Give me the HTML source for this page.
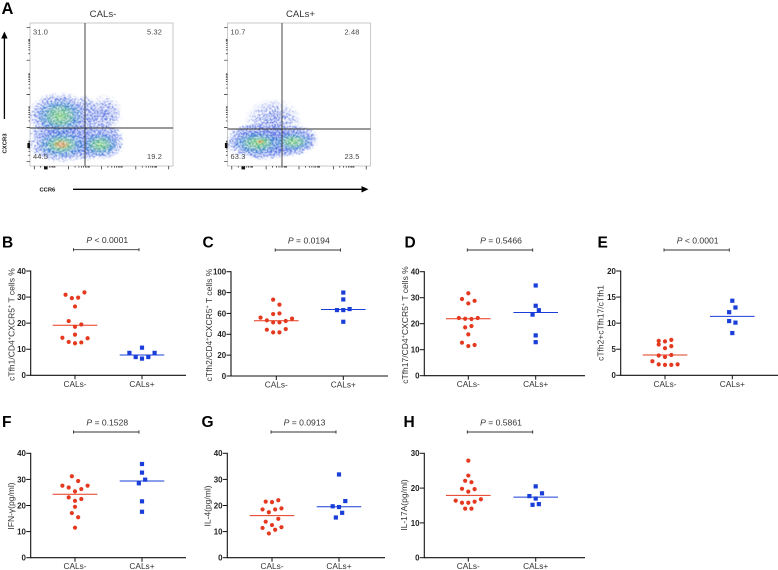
<!DOCTYPE html>
<html lang="en">
<head>
<meta charset="utf-8">
<title>cTfh subsets in CALs- and CALs+ patients</title>
<style>
html,body{margin:0;padding:0;background:#fff;}
#figure{display:block;width:778px;height:570px;font-family:"Liberation Sans",Arial,sans-serif;}
</style>
</head>
<body>
<svg id="figure" xmlns="http://www.w3.org/2000/svg" width="778" height="570" viewBox="0 0 778 570">
  <defs>
    <filter id="speckle" x="-10%" y="-10%" width="120%" height="120%" color-interpolation-filters="sRGB">
      <feTurbulence type="fractalNoise" baseFrequency="0.8" numOctaves="2" seed="7" result="noise"/>
      <feColorMatrix in="noise" type="matrix" values="0 0 0 0 0  0 0 0 0 0  0 0 0 0 0  3.5 0 0 0 -1.25" result="mask"/>
      <feComposite in="SourceGraphic" in2="mask" operator="in" result="masked"/>
      <feComponentTransfer in="masked" result="dots"><feFuncA type="linear" slope="8" intercept="-2.6"/></feComponentTransfer>
      <feGaussianBlur in="dots" stdDeviation="0.4"/>
    </filter>
    <radialGradient id="fade-blue"><stop offset="0" stop-color="#2343d6" stop-opacity="1"/><stop offset="0.6" stop-color="#2a4ddc" stop-opacity="0.55"/><stop offset="1" stop-color="#4a6ae6" stop-opacity="0.2"/></radialGradient>
    <radialGradient id="fade-teal"><stop offset="0" stop-color="#2fa4b4" stop-opacity="0.95"/><stop offset="1" stop-color="#2f94c4" stop-opacity="0.3"/></radialGradient>
    <radialGradient id="fade-green"><stop offset="0" stop-color="#6cc45c" stop-opacity="0.95"/><stop offset="1" stop-color="#5cc070" stop-opacity="0.3"/></radialGradient>
    <radialGradient id="fade-red"><stop offset="0" stop-color="#e2552c" stop-opacity="0.95"/><stop offset="1" stop-color="#e0a030" stop-opacity="0.3"/></radialGradient>
    <clipPath id="clip-neg"><rect x="30" y="23" width="143" height="143"/></clipPath>
    <clipPath id="clip-pos"><rect x="227.5" y="23" width="143" height="143"/></clipPath>
  </defs>

  <rect x="0" y="0" width="778" height="570" fill="#fff"/>

  <g id="panel-a"></g>

  <path d="M4.4 119V36" stroke="#000" stroke-width="1.3" fill="none"/>
  <path d="M4.4 31.5L1.2 38.5H7.6Z" fill="#000"/>
  <text transform="translate(6.5,143.5) rotate(-90)" text-anchor="middle" font-size="5.9" font-weight="bold" fill="#111">CXCR3</text>
  <text x="39.5" y="191.5" font-size="5.8" font-weight="bold" fill="#111">CCR6</text>
  <path d="M73 189.3H363" stroke="#000" stroke-width="1.3" fill="none"/>
  <path d="M368.5 189.3L361.5 186.1V192.5Z" fill="#000"/>

  <g id="panels"></g>
</svg>

<script>
/* ---------- Panel A: flow plots ---------- */
const flowPctNeg = ["31.0", "5.32", "44.5", "19.2"];
const flowPctPos = ["10.7", "2.48", "63.3", "23.5"];
/* populations, in channel units (0-100) */
const flowNegX = [22, 21, 49, 52];
const flowNegY = [15, 35, 15, 36];
const flowNegSpreadX = [28, 27, 21, 20];
const flowNegSpreadY = [15, 20, 13, 22];
const flowNegDensity = [1, 0.8, 0.72, 0.28];
const flowPosX = [21, 23, 46, 32];
const flowPosY = [16, 17, 17, 30];
const flowPosSpreadX = [28, 15, 22, 32];
const flowPosSpreadY = [13, 6, 11, 27];
const flowPosDensity = [0.8, 1, 0.7, 0.28];
const flowDecades = [3, 27, 50, 74, 97];

/* ---------- Panel B ---------- */
const bTicks = [0, 10, 20, 30, 40];
const bNegValues = [12.3, 12.6, 12.8, 14.2, 14.4, 15.6, 18.6, 19.5, 20.8, 26.4, 29.6, 29.8, 30.9, 31.8];
const bNegRowSizes = [5, 1, 3, 1, 4];
const bNegMedian = 19.2;
const bPosValues = [6.4, 7.0, 7.0, 8.6, 8.6, 10.6];
const bPosRowSizes = [5, 1];
const bPosMedian = 7.8;

/* ---------- Panel C ---------- */
const cTicks = [0, 20, 40, 60, 80, 100];
const cNegValues = [41.8, 41.8, 44.4, 45, 51.4, 51.4, 53.4, 52.7, 56, 55, 59.4, 60, 73.2, 68.4];
const cNegRowSizes = [4, 6, 2, 2];
const cNegMedian = 53;
const cPosValues = [52, 63.2, 64.2, 63.2, 73.4, 80];
const cPosRowSizes = [1, 3, 1, 1];
const cPosMedian = 63.7;

/* ---------- Panel D ---------- */
const dTicks = [0, 10, 20, 30, 40];
const dNegValues = [11.4, 11.8, 12.7, 15.9, 18.6, 19.1, 21.9, 21.8, 22.2, 22.2, 27.8, 28.8, 29.5, 31.7];
const dNegRowSizes = [3, 1, 2, 4, 3, 1];
const dNegMedian = 21.9;
const dPosValues = [12.9, 15.5, 23.5, 25.2, 26.9, 34.7];
const dPosRowSizes = [1, 1, 2, 1, 1];
const dPosMedian = 24.3;

/* ---------- Panel E ---------- */
const eTicks = [0, 5, 10, 15, 20];
const eNegValues = [2.0, 2.0, 2.1, 2.1, 2.7, 3.5, 3.9, 3.8, 5.2, 5.6, 5.9, 6.5, 6.8, 6.6];
const eNegRowSizes = [5, 3, 3, 3];
const eNegMedian = 3.9;
const ePosValues = [8.1, 10.4, 10.1, 12.1, 13.0, 14.3];
const ePosRowSizes = [1, 2, 2, 1];
const ePosMedian = 11.3;

/* ---------- Panel F ---------- */
const fTicks = [0, 10, 20, 30, 40];
const fNegValues = [11.5, 17.1, 15.5, 19.5, 21.8, 22.5, 23.1, 25.4, 26.3, 26.9, 27.6, 27.6, 31.2, 29.4];
const fNegRowSizes = [1, 2, 1, 3, 5, 2];
const fNegMedian = 24.3;
const fPosValues = [17.6, 21.6, 28.5, 29.9, 32.6, 35.9];
const fPosRowSizes = [1, 1, 2, 1, 1];
const fPosMedian = 29.4;

/* ---------- Panel G ---------- */
const gTicks = [0, 10, 20, 30, 40];
const gNegValues = [9.3, 10.7, 11.4, 11.7, 12.5, 14.9, 13.8, 17.4, 18.5, 18.5, 18.9, 21.3, 22, 21.5];
const gNegRowSizes = [4, 3, 4, 3];
const gNegMedian = 16.1;
const gPosValues = [15.4, 17.2, 19.4, 21.7, 19.7, 31.9];
const gPosRowSizes = [2, 3, 1];
const gPosMedian = 19.5;

/* ---------- Panel H ---------- */
const hTicks = [0, 10, 20, 30];
const hNegValues = [14.1, 14.1, 15.8, 16.1, 15.8, 16.8, 16.4, 19, 19.7, 19.8, 22.1, 21.7, 23.6, 27.9];
const hNegRowSizes = [2, 5, 3, 2, 1, 1];
const hNegMedian = 17.9;
const hPosValues = [15.2, 15.4, 17, 18.5, 17.7, 20.5];
const hPosRowSizes = [2, 3, 1];
const hPosMedian = 17.4;

const categories = ["CALs-", "CALs+"];

const NS = "http://www.w3.org/2000/svg";
const RED = "#e5391f";
const BLUE = "#1a3fd8";

function make(parent, tag, attrs, text) {
  const el = document.createElementNS(NS, tag);
  for (const k in attrs) el.setAttribute(k, attrs[k]);
  if (text !== undefined) el.textContent = text;
  parent.appendChild(el);
  return el;
}

/* dots in a swarm row fan out from the centre: odd rows 0,+1,-1,+2…; even rows -.5,+.5,-1.5,+1.5… */
function swarmSlot(indexInRow, rowSize) {
  const step = Math.floor(indexInRow / 2);
  if (rowSize % 2 === 1) {
    if (indexInRow === 0) return 0;
    return indexInRow % 2 === 1 ? step + 1 : -step;
  }
  return indexInRow % 2 === 0 ? -(step + 0.5) : step + 0.5;
}

function drawSeries(group, values, rowSizes, median, cx, yScale, color, shape, name) {
  const slotWidth = 6.3;
  let cursor = 0;
  rowSizes.forEach(function (rowSize) {
    for (let i = 0; i < rowSize; i++) {
      const x = cx + swarmSlot(i, rowSize) * slotWidth;
      const y = yScale(values[cursor + i]);
      let mark;
      if (shape === "circle") {
        mark = make(group, "circle", { cx: x, cy: y, r: 2.1, fill: color });
      } else {
        mark = make(group, "rect", { x: x - 2.1, y: y - 2.1, width: 4.2, height: 4.2, fill: color });
      }
      
      
    }
    cursor += rowSize;
  });
  const line = make(group, "line", { x1: cx - 22.3, x2: cx + 22.3, y1: yScale(median), y2: yScale(median), stroke: color, "stroke-width": 1 });
  
  
}

function drawTitle(group, cfg) {
  const t = make(group, "text", {
    transform: "translate(" + cfg.titleX + "," + cfg.titleY + ") rotate(-90)",
    "text-anchor": "middle", "font-size": 8.5, fill: "#333"
  });
  
  
  let afterSup = false;
  cfg.title.split(/(\^)/).forEach(function (part) {
    if (part === "^") {
      const sup = make(t, "tspan", { "font-size": 5.8, dy: -2.8 }, "+");
      
      
      afterSup = true;
    } else if (part) {
      const attrs = afterSup ? { dy: 2.8 } : {};
      afterSup = false;
      const run = make(t, "tspan", attrs, part);
      
      
    }
  });
}

function drawPanel(cfg) {
  const g = make(document.getElementById("panels"), "g", {});
  
  

  const yMax = cfg.ticks[cfg.ticks.length - 1];
  const yScale = function (v) { return cfg.y0 - (v / yMax) * (cfg.y0 - cfg.yTop); };

  const letter = make(g, "text", { x: cfg.letterX, y: cfg.letterY, "font-size": 15.5, "font-weight": "bold", fill: "#000" }, cfg.letter);
  
  

  /* significance bracket */
  const by = cfg.bracketY;
  const bracket = make(g, "path", {
    d: "M" + cfg.bx1 + " " + (by - 1.6) + "V" + (by + 1.6) + "M" + cfg.bx1 + " " + by + "H" + cfg.bx2 + "M" + cfg.bx2 + " " + (by - 1.6) + "V" + (by + 1.6),
    stroke: "#333", "stroke-width": 0.9, fill: "none"
  });
  
  
  const pText = make(g, "text", { x: (cfg.bx1 + cfg.bx2) / 2 + 1, y: by - 6.5, "text-anchor": "middle", "font-size": 8.6, fill: "#333" });
  
  
  const pItalic = make(pText, "tspan", { "font-style": "italic" }, "P");
  
  
  const pRest = make(pText, "tspan", {}, " " + cfg.p);
  
  

  drawTitle(g, cfg);

  /* axes */
  const yAxis = make(g, "line", { x1: cfg.x0, x2: cfg.x0, y1: cfg.yTop - 0.5, y2: cfg.y0 + 0.5, stroke: "#111", "stroke-width": 1.1 });
  
  
  const xAxis = make(g, "line", { x1: cfg.x0, x2: cfg.xEnd, y1: cfg.y0, y2: cfg.y0, stroke: "#111", "stroke-width": 1.1 });
  
  

  cfg.ticks.forEach(function (v) {
    const y = yScale(v);
    const tick = make(g, "line", { x1: cfg.x0 - 4.5, x2: cfg.x0, y1: y, y2: y, stroke: "#111", "stroke-width": 1 });
    
    
    const label = make(g, "text", { x: cfg.x0 - 4.8, y: y + 2.9, "text-anchor": "end", "font-size": 7.9, "font-weight": "bold", fill: "#222" }, String(v));
    
    
  });

  categories.forEach(function (c, i) {
    const x = cfg.cats[i];
    const tick = make(g, "line", { x1: x, x2: x, y1: cfg.y0, y2: cfg.y0 + 4, stroke: "#111", "stroke-width": 1 });
    
    
    const label = make(g, "text", { x: x, y: cfg.y0 + 11.5, "text-anchor": "middle", "font-size": 8.3, fill: "#333" }, c);
    
    
  });

  drawSeries(g, cfg.negValues, cfg.negRows, cfg.negMedian, cfg.cats[0], yScale, RED, "circle", "cals-negative");
  drawSeries(g, cfg.posValues, cfg.posRows, cfg.posMedian, cfg.cats[1], yScale, BLUE, "square", "cals-positive");
}

drawPanel({ letter: "B", letterX: 2, letterY: 247.5, ticks: bTicks, x0: 30.7, xEnd: 186, y0: 375.3, yTop: 271, cats: [75, 142], bx1: 73.5, bx2: 139, bracketY: 249.7, p: "< 0.0001", title: "cTfh1/CD4^CXCR5^ T cells %", titleX: 14.5, titleY: 324.5, negValues: bNegValues, negRows: bNegRowSizes, negMedian: bNegMedian, posValues: bPosValues, posRows: bPosRowSizes, posMedian: bPosMedian });
drawPanel({ letter: "C", letterX: 202.5, letterY: 247.5, ticks: cTicks, x0: 231, xEnd: 388, y0: 376, yTop: 271.7, cats: [276.3, 343.3], bx1: 275.2, bx2: 340.5, bracketY: 250, p: "= 0.0194", title: "cTfh2/CD4^CXCR5^ T cells %", titleX: 212, titleY: 325, negValues: cNegValues, negRows: cNegRowSizes, negMedian: cNegMedian, posValues: cPosValues, posRows: cPosRowSizes, posMedian: cPosMedian });
drawPanel({ letter: "D", letterX: 404.5, letterY: 247.5, ticks: dTicks, x0: 424.3, xEnd: 585, y0: 375.7, yTop: 271.7, cats: [468.3, 535.7], bx1: 467.3, bx2: 532.7, bracketY: 250, p: "= 0.5466", title: "cTfh17/CD4^CXCR5^ T cells %", titleX: 408, titleY: 325, negValues: dNegValues, negRows: dNegRowSizes, negMedian: dNegMedian, posValues: dPosValues, posRows: dPosRowSizes, posMedian: dPosMedian });
drawPanel({ letter: "E", letterX: 597.5, letterY: 247.5, ticks: eTicks, x0: 620.7, xEnd: 778, y0: 375.3, yTop: 271, cats: [665, 732.3], bx1: 664, bx2: 729.3, bracketY: 250, p: "< 0.0001", title: "cTfh2+cTfh17/cTfh1", titleX: 603.5, titleY: 323, negValues: eNegValues, negRows: eNegRowSizes, negMedian: eNegMedian, posValues: ePosValues, posRows: ePosRowSizes, posMedian: ePosMedian });
drawPanel({ letter: "F", letterX: 2, letterY: 427, ticks: fTicks, x0: 30.7, xEnd: 186, y0: 557.7, yTop: 453.3, cats: [75, 142], bx1: 73.5, bx2: 139, bracketY: 432, p: "= 0.1528", title: "IFN-γ(pg/ml)", titleX: 14, titleY: 506, negValues: fNegValues, negRows: fNegRowSizes, negMedian: fNegMedian, posValues: fPosValues, posRows: fPosRowSizes, posMedian: fPosMedian });
drawPanel({ letter: "G", letterX: 201.5, letterY: 427, ticks: gTicks, x0: 227.3, xEnd: 385, y0: 557.7, yTop: 453.3, cats: [272, 339], bx1: 271, bx2: 336, bracketY: 432, p: "= 0.0913", title: "IL-4(pg/ml)", titleX: 210.5, titleY: 506, negValues: gNegValues, negRows: gNegRowSizes, negMedian: gNegMedian, posValues: gPosValues, posRows: gPosRowSizes, posMedian: gPosMedian });
drawPanel({ letter: "H", letterX: 403.5, letterY: 427, ticks: hTicks, x0: 424.3, xEnd: 585, y0: 557.7, yTop: 453.3, cats: [468.3, 535.7], bx1: 467.3, bx2: 532.7, bracketY: 432, p: "= 0.5861", title: "IL-17A(pg/ml)", titleX: 407, titleY: 505, negValues: hNegValues, negRows: hNegRowSizes, negMedian: hNegMedian, posValues: hPosValues, posRows: hPosRowSizes, posMedian: hPosMedian });

/* ---------- Flow plots ---------- */
function drawFlow(cfg) {
  const host = document.getElementById("panel-a");
  const g = make(host, "g", {});
  
  
  const size = 143;
  const sx = function (u) { return cfg.left + (u / 100) * size; };
  const sy = function (u) { return cfg.top + size - (u / 100) * size; };

  const frame = make(g, "rect", { x: cfg.left, y: cfg.top, width: size, height: size, fill: "#fff", stroke: "#bdbdbd", "stroke-width": 0.8 });
  
  

  const clip = make(g, "g", { "clip-path": "url(#" + cfg.clip + ")" });
  
  
  const cloud = make(clip, "g", { filter: "url(#speckle)" });
  
  

  const bands = ["fade-blue", "fade-teal", "fade-green", "fade-red"];
  const bandScale = [1, 0.55, 0.36, 0.2];
  const bandFloor = [0, 0.55, 0.68, 0.84];
  bands.forEach(function (fill, b) {
    cfg.xs.forEach(function (u, i) {
      if (cfg.density[i] < bandFloor[b]) return;
      const e = make(cloud, "ellipse", {
        cx: sx(u), cy: sy(cfg.ys[i]),
        rx: (cfg.sxs[i] / 100) * size * bandScale[b],
        ry: (cfg.sys[i] / 100) * size * bandScale[b],
        fill: "url(#" + fill + ")",
        opacity: b === 0 ? Math.min(1, 0.45 + 0.7 * cfg.density[i]) : 1
      });
      
      
    });
  });

  const v = make(g, "line", { x1: cfg.gateX, x2: cfg.gateX, y1: cfg.top, y2: cfg.top + size, stroke: "#444", "stroke-width": 1 });
  
  
  const h = make(g, "line", { x1: cfg.left, x2: cfg.left + size, y1: cfg.gateY, y2: cfg.gateY, stroke: "#333", "stroke-width": 0.9 });
  
  

  const title = make(g, "text", { x: cfg.left + 73, y: 17, "text-anchor": "middle", "font-size": 9.6, fill: "#333" }, cfg.title);
  
  

  const labelLeft = cfg.left + 3;
  const labelRight = cfg.left + 132;
  const spots = [[labelLeft, 34.5, "start"], [labelRight, 34.5, "end"], [labelLeft, 159, "start"], [labelRight, 159, "end"]];
  cfg.pct.forEach(function (p, i) {
    const t = make(g, "text", { x: spots[i][0], y: spots[i][1], "text-anchor": spots[i][2], "font-size": 7.4, fill: "#444", "letter-spacing": 0.15 }, p);
    
    
  });

  /* log-style ticks on the left and bottom edges */
  let d = "";
  const logSteps = [0, 4.5, 7.2, 9, 10.5, 11.7, 12.8, 13.7, 14.4];
  flowDecades.forEach(function (dec, i) {
    logSteps.forEach(function (s, j) {
      const len = j === 0 ? 3.4 : 1.6;
      if (i === 4 && j > 0) return;
      d += "M" + sx(dec + s) + " " + (cfg.top + size) + "v" + len;
      d += "M" + cfg.left + " " + sy(dec + s) + "h" + (-len);
    });
  });
  const ticks = make(g, "path", { d: d, stroke: "#222", "stroke-width": 0.7, fill: "none" });
  
  
  const xBlob = make(g, "rect", { x: cfg.left + 14, y: cfg.top + size + 0.4, width: 3.6, height: 3, fill: "#111" });
  
  
  const yBlob = make(g, "rect", { x: cfg.left - 2.6, y: cfg.top + size - 23, width: 2.6, height: 5, fill: "#111" });
  
  
}

drawFlow({ name: "flow-plot-cals-negative", title: "CALs-", left: 30, top: 23, gateX: 85, gateY: 128, clip: "clip-neg", pct: flowPctNeg, xs: flowNegX, ys: flowNegY, sxs: flowNegSpreadX, sys: flowNegSpreadY, density: flowNegDensity });
drawFlow({ name: "flow-plot-cals-positive", title: "CALs+", left: 227.5, top: 23, gateX: 282, gateY: 129, clip: "clip-pos", pct: flowPctPos, xs: flowPosX, ys: flowPosY, sxs: flowPosSpreadX, sys: flowPosSpreadY, density: flowPosDensity });

const letterA = make(document.getElementById("panel-a"), "text", { x: 1.5, y: 14, "font-size": 16.5, "font-weight": "bold", fill: "#000" }, "A");


</script>
</body>
</html>
